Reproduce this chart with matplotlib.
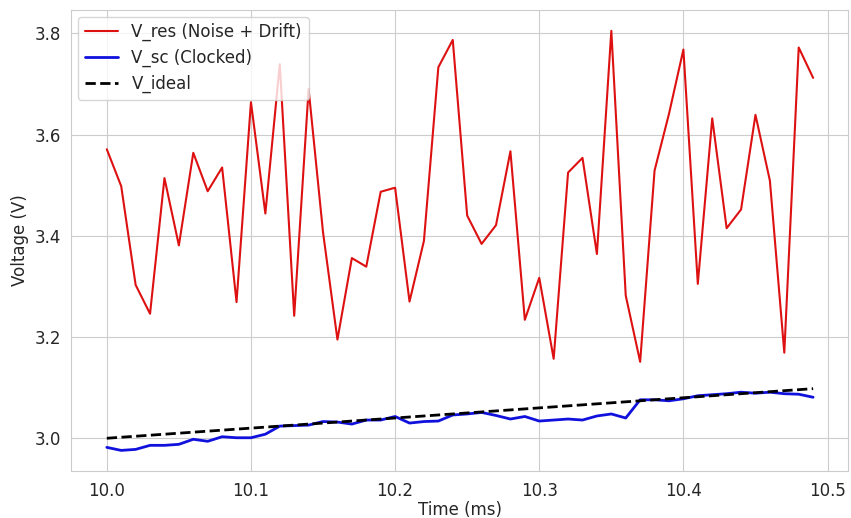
import numpy as np
import matplotlib
matplotlib.use("Agg")
from matplotlib import pyplot as plt
import seaborn as sns

# time axis, 10.00 .. 10.49 ms
t = np.round(np.arange(10.0, 10.495, 0.01), 2)

v_res = [3.571, 3.498, 3.303, 3.246, 3.514, 3.381, 3.564, 3.488, 3.535, 3.269,
         3.664, 3.444, 3.739, 3.242, 3.690, 3.407, 3.195, 3.356, 3.339, 3.487,
         3.495, 3.270, 3.390, 3.733, 3.787, 3.440, 3.384, 3.421, 3.567, 3.234,
         3.317, 3.157, 3.525, 3.554, 3.364, 3.805, 3.282, 3.151, 3.529, 3.641,
         3.768, 3.305, 3.632, 3.415, 3.452, 3.639, 3.509, 3.169, 3.772, 3.712]

v_sc = [2.982, 2.976, 2.978, 2.986, 2.986, 2.988, 2.998, 2.994, 3.003, 3.001,
        3.001, 3.008, 3.024, 3.025, 3.026, 3.033, 3.032, 3.028, 3.036, 3.036,
        3.043, 3.030, 3.033, 3.034, 3.046, 3.048, 3.051, 3.045, 3.038, 3.043,
        3.034, 3.036, 3.038, 3.036, 3.044, 3.048, 3.040, 3.076, 3.076, 3.074,
        3.078, 3.084, 3.086, 3.088, 3.091, 3.089, 3.091, 3.088, 3.087, 3.081]

# ideal ramp, end points only
t_ideal = [10.0, 10.49]
v_ideal = [3.0, 3.098]

sns.set_style("whitegrid")
plt.rcParams['font.family'] = ['DejaVu Sans']

fig, ax = plt.subplots(figsize=(8.51, 5.18), dpi=100)
fig.subplots_adjust(left=0.084, right=0.997, top=0.981, bottom=0.09)

ax.plot(t, v_res, color='#dd1111', lw=1.5, label='V_res (Noise + Drift)')
ax.plot(t, v_sc, color='#1111dd', lw=2, label='V_sc (Clocked)')
ax.plot(t_ideal, v_ideal, color='black', lw=2, ls='--', label='V_ideal')

ax.set_xlabel('Time (ms)', fontsize=12, labelpad=1)
ax.set_ylabel('Voltage (V)', fontsize=12, labelpad=4)
ax.tick_params(labelsize=12, pad=4)
ax.legend(loc='upper left', fontsize=12, borderaxespad=0.4,
          handlelength=2, labelspacing=0.45)

fig.savefig('out.png', dpi=100)
